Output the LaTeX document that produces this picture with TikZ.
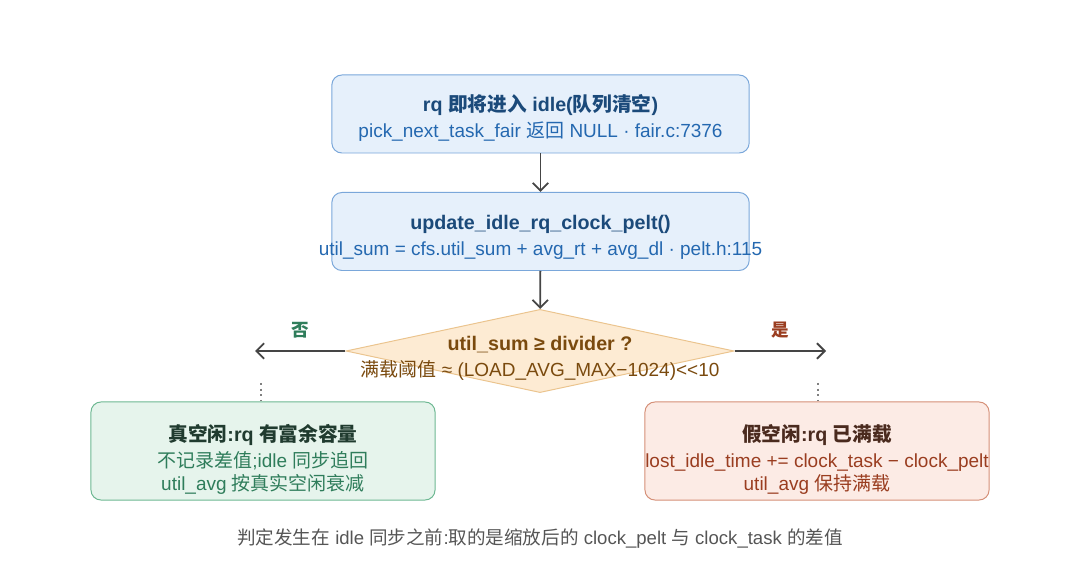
\documentclass[tikz,border=0pt]{standalone}
\usepackage{fontspec}
\setmainfont{Liberation Sans}
\newfontfamily\cjk{Noto Sans CJK SC}
\usepackage{xcolor}
\usetikzlibrary{arrows.meta,shapes.geometric,calc}

\definecolor{bluefill}{HTML}{E6F0FB}
\definecolor{blueline}{HTML}{7AA7DA}
\definecolor{bluehead}{HTML}{1B4A7A}
\definecolor{bluetext}{HTML}{2468B0}
\definecolor{orfill}{HTML}{FDEBD3}
\definecolor{orline}{HTML}{EBC48E}
\definecolor{ortext}{HTML}{7A4A0E}
\definecolor{grfill}{HTML}{E6F4EC}
\definecolor{grline}{HTML}{6DB892}
\definecolor{grhead}{HTML}{203B2F}
\definecolor{grtext}{HTML}{2F7D5B}
\definecolor{rdfill}{HTML}{FCEBE5}
\definecolor{rdline}{HTML}{D59078}
\definecolor{rdhead}{HTML}{4A2A1E}
\definecolor{rdtext}{HTML}{9A3D20}
\definecolor{arrowgray}{HTML}{454545}
\definecolor{notegray}{HTML}{555555}

\newcommand{\headsz}{\fontsize{14}{16}\selectfont\bfseries}
\newcommand{\bodysz}{\fontsize{13.5}{16.5}\selectfont}
% overflowing line, centred on the box
\newcommand{\wideline}[1]{\makebox[7cm][c]{#1}}

\tikzset{
  stepbox/.style={draw=blueline,fill=bluefill,rounded corners=0.25cm,line width=0.7pt,
    minimum width=10.43cm,minimum height=1.95cm,align=center,font=\bodysz,text=bluetext},
  decide/.style={diamond,draw=orline,fill=orfill,line width=0.7pt,inner sep=0pt,
    minimum width=9.7cm,minimum height=2.08cm,aspect=4.67},
  yesbox/.style={draw=rdline,fill=rdfill,rounded corners=0.25cm,line width=0.7pt,
    minimum width=8.6cm,minimum height=2.45cm,align=center,font=\bodysz,text=rdtext},
  nobox/.style={draw=grline,fill=grfill,rounded corners=0.25cm,line width=0.7pt,
    minimum width=8.6cm,minimum height=2.45cm,align=center,font=\bodysz,text=grtext},
  flow/.style={-{Straight Barb[length=5.5pt,width=11pt]},line width=1.3pt,draw=arrowgray},
  hint/.style={draw=gray,dash pattern=on 1.5pt off 2.5pt,line width=0.8pt}
}

\begin{document}
\begin{tikzpicture}[x=0.025cm,y=-0.025cm]
  \useasboundingbox (0,0) rectangle (1080,576);

  % main chain
  \node[stepbox] (idle) at (540.5,114) {%
    {\headsz\color{bluehead}\rule{0pt}{18pt}rq {\cjk 即将进入} idle({\cjk 队列清空})}\\[2pt]
    pick\_next\_task\_fair {\cjk 返回} NULL · fair.c:7376};
  \node[stepbox] (upd) at (540.5,231.5) {%
    {\headsz\color{bluehead}\rule{0pt}{18pt}update\_idle\_rq\_clock\_pelt()}\\[2pt]
    \wideline{util\_sum = cfs.util\_sum + avg\_rt + avg\_dl · pelt.h:115}};

  \node[decide] (dec) at (540,351) {};
  \node[align=center,text=ortext,font=\bodysz] (dectxt) at (dec) {%
    {\headsz\rule{0pt}{21pt}util\_sum ≥ divider ?}\\[2pt]
    {\cjk 满载阈值} ≈ (LOAD\_AVG\_MAX−1024){<}{<}10};

  \draw[flow] (idle) -- (upd);
  \draw[flow] (upd) -- (dec);

  % branches
  \coordinate (noend) at (255,351);
  \coordinate (yesend) at (826,351);
  \draw[flow] (dec.west) -- node[above=5pt,font=\fontsize{12.5}{15}\selectfont\bfseries\cjk,text=grtext]{否} (noend);
  \draw[flow] (dec.east) -- node[above=5pt,font=\fontsize{12.5}{15}\selectfont\bfseries\cjk,text=rdtext]{是} (yesend);

  \node[nobox] (idlereal) at (263,451) {%
    {\headsz\color{grhead}\rule{0pt}{24pt}{\cjk 真空闲}:rq {\cjk 有富余容量}}\\[2pt]
    {\cjk 不记录差值};idle {\cjk 同步追回}\\
    util\_avg {\cjk 按真实空闲衰减}};
  \node[yesbox] (idlefake) at (817,451) {%
    {\headsz\color{rdhead}\rule{0pt}{24pt}{\cjk 假空闲}:rq {\cjk 已满载}}\\[2pt]
    \wideline{lost\_idle\_time += clock\_task − clock\_pelt}\\
    util\_avg {\cjk 保持满载}};

  \coordinate (nodrop) at (261,383);
  \coordinate (yesdrop) at (818,383);
  \draw[hint] (nodrop) -- (nodrop |- idlereal.north);
  \draw[hint] (yesdrop) -- (yesdrop |- idlefake.north);

  % footnote
  \node[font=\fontsize{13.2}{16}\selectfont,text=notegray] (note) at (540,539)
    {{\cjk 判定发生在} idle {\cjk 同步之前}:{\cjk 取的是缩放后的} clock\_pelt {\cjk 与} clock\_task {\cjk 的差值}};
\end{tikzpicture}
\end{document}
